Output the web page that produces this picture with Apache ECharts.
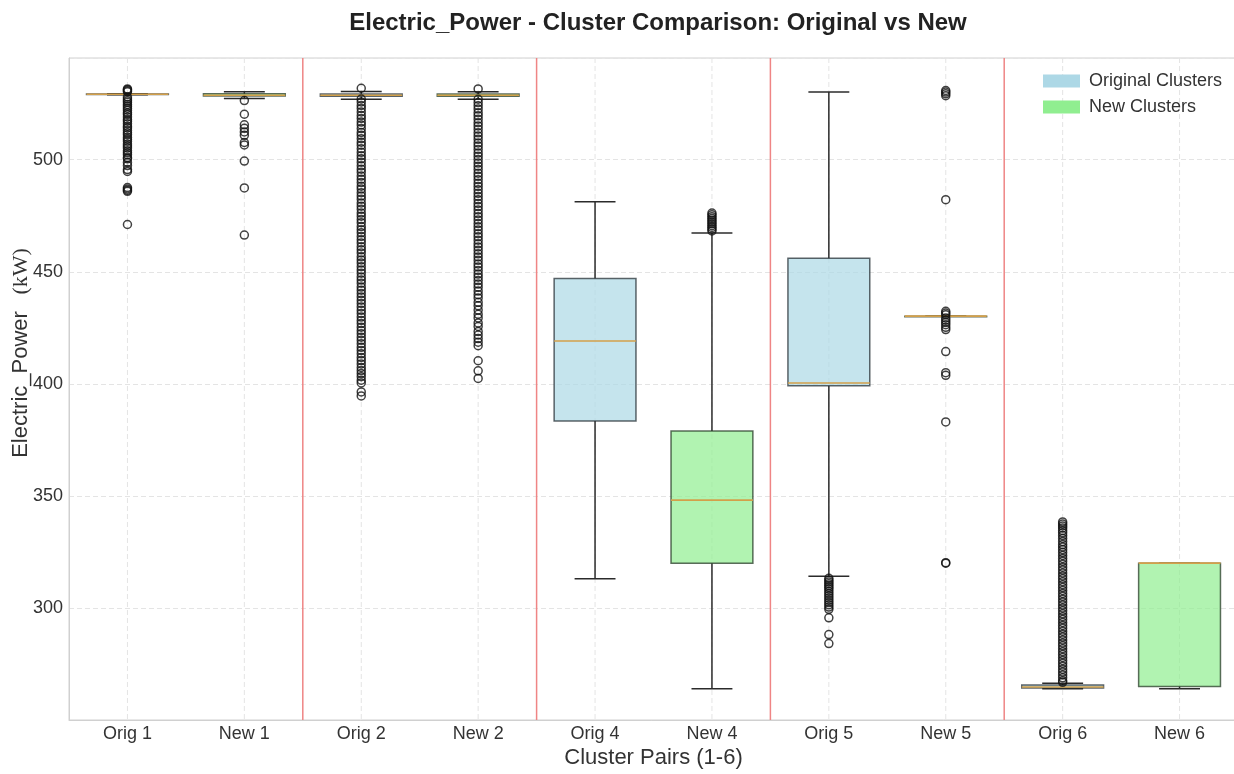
<!DOCTYPE html>
<html><head><meta charset="utf-8">
<script src="https://cdn.jsdelivr.net/npm/echarts@6/dist/echarts.min.js"></script>
<style>html,body{margin:0;padding:0;background:#fff}#c{width:1234px;height:774px}</style>
</head><body><div id="c"></div>
<script>
const categories = ['Orig 1','New 1','Orig 2','New 2','Orig 4','New 4','Orig 5','New 5','Orig 6','New 6'];
// [min whisker, Q1, median, Q3, max whisker]
const origStats = {
  'Orig 1': [529.0, 529.1, 529.2, 529.3, 529.4],
  'Orig 2': [527.0, 528.3, 528.8, 529.3, 530.4],
  'Orig 4': [313.0, 383.4, 419.1, 447.0, 481.3],
  'Orig 5': [314.2, 399.1, 400.4, 456.0, 530.2],
  'Orig 6': [264.0, 264.3, 264.7, 265.6, 266.4]
};
const newStats = {
  'New 1': [527.3, 528.4, 528.8, 529.4, 530.3],
  'New 2': [527.0, 528.3, 528.8, 529.3, 530.3],
  'New 4': [264.0, 319.9, 348.1, 379.0, 467.3],
  'New 5': [430.2, 430.2, 430.2, 430.2, 430.2],
  'New 6': [264.0, 265.0, 320.0, 320.0, 320.0]
};
const outliersOrig1 = [531.6,531.2,530.8,530.3,528.0,527.1,526.3,525.6,524.7,523.9,523.0,522.1,521.0,520.2,519.1,518.0,517.2,516.1,515.0,514.2,513.1,512.0,511.2,510.0,509.1,508.2,507.0,506.1,505.2,504.0,503.1,502.2,501.0,500.4,498.8,497.4,495.6,494.8,487.6,487.0,486.4,485.9,471.1];
const outliersNew1 = [526.4,520.3,515.6,514.0,512.4,510.9,507.7,506.6,499.4,487.4,466.4];
const outliersOrig2 = [531.9,527.1,525.8,524.2,522.9,521.3,519.7,518.4,516.8,515.5,513.9,512.2,510.9,509.4,507.8,506.5,504.9,503.3,501.8,500.4,498.9,497.3,495.8,494.4,492.7,491.3,489.8,488.2,486.9,485.3,483.8,482.4,480.7,479.3,477.9,476.2,474.8,473.3,471.9,470.2,468.8,467.4,465.8,464.3,462.9,461.2,459.8,458.4,456.7,455.3,453.9,452.3,450.8,449.4,447.7,446.3,444.9,443.2,441.8,440.3,438.8,437.3,435.9,434.3,432.8,431.4,429.8,428.3,426.9,425.3,423.8,422.4,420.8,419.4,417.9,416.3,414.9,413.4,411.8,410.4,408.9,407.3,405.9,404.6,403.2,401.6,400.4,396.4,394.6];
const outliersNew2 = [531.6,527.0,525.5,524.1,522.6,521.0,519.6,518.1,516.5,515.1,513.6,512.0,510.6,509.1,507.5,506.1,504.6,503.0,501.6,500.1,498.5,497.1,495.6,494.0,492.6,491.1,489.5,488.1,486.6,485.0,483.6,482.1,480.5,479.1,477.6,476.0,474.6,473.1,471.5,470.1,468.6,467.0,465.6,464.1,462.5,461.1,459.6,458.0,456.6,455.1,453.5,452.1,450.6,449.0,447.6,446.1,444.5,443.1,441.4,439.8,438.3,436.4,434.8,432.9,431.0,429.4,427.2,425.6,423.4,421.8,420.2,418.6,417.0,410.3,405.8,402.4];
const outliersNew4 = [476.2,475.4,474.6,473.8,473.0,472.2,471.4,470.6,469.8,469.0,468.2];
const outliersOrig5 = [313.2,312.4,311.6,310.8,310.0,309.2,308.4,307.4,306.4,305.4,304.4,303.4,302.4,301.4,300.4,299.4,295.6,288.1,284.1];
const outliersNew5 = [530.9,530.2,529.4,528.6,482.2,432.4,431.6,430.8,429.4,428.4,427.4,426.4,425.2,424.2,414.4,405.0,403.8,383.0,320.2,320.0];
const outliersOrig6 = [338.4,337.5,336.6,335.7,334.6,333.5,332.3,331.0,329.6,328.3,327.2,326.0,324.7,323.4,322.1,320.8,319.5,318.2,316.9,315.6,314.3,313.0,311.7,310.4,309.1,307.8,306.5,305.2,303.9,302.6,301.3,300.0,298.7,297.4,296.1,294.8,293.5,292.2,290.9,289.6,288.3,287.0,285.7,284.4,283.1,281.8,280.5,279.2,277.9,276.6,275.3,274.0,272.7,271.4,270.1,268.8,267.5,266.8];
const yTicks = [300, 350, 400, 450, 500];
const pairSeparators = [[1,2],[3,4],[5,6],[7,8]];

const outlierMap = {
  'Orig 1': outliersOrig1, 'New 1': outliersNew1, 'Orig 2': outliersOrig2, 'New 2': outliersNew2,
  'New 4': outliersNew4, 'Orig 5': outliersOrig5, 'New 5': outliersNew5, 'Orig 6': outliersOrig6
};
const outlierData = [];
Object.keys(outlierMap).forEach(k => {
  const idx = categories.indexOf(k);
  outlierMap[k].forEach(v => outlierData.push([idx, v]));
});
function boxData(stats) {
  return Object.keys(stats).map(k => [categories.indexOf(k)].concat(stats[k]));
}

function makeRender(fill, edge) {
  return function (params, api) {
    const x = api.value(0);
    const lo = api.coord([x, api.value(1)]);
    const q1 = api.coord([x, api.value(2)]);
    const md = api.coord([x, api.value(3)]);
    const q3 = api.coord([x, api.value(4)]);
    const hi = api.coord([x, api.value(5)]);
    const bw = api.size([1, 0])[0];
    const half = bw * 0.35, capHalf = bw * 0.175;
    const cx = lo[0];
    const wStyle = { stroke: '#2b2b2b', lineWidth: 1.5 };
    return {
      type: 'group',
      children: [
        { type: 'line', shape: { x1: cx, y1: lo[1], x2: cx, y2: q1[1] }, style: wStyle },
        { type: 'line', shape: { x1: cx, y1: q3[1], x2: cx, y2: hi[1] }, style: wStyle },
        { type: 'line', shape: { x1: cx - capHalf, y1: lo[1], x2: cx + capHalf, y2: lo[1] }, style: wStyle },
        { type: 'line', shape: { x1: cx - capHalf, y1: hi[1], x2: cx + capHalf, y2: hi[1] }, style: wStyle },
        { type: 'rect', shape: { x: cx - half, y: q3[1], width: half * 2, height: Math.max(q1[1] - q3[1], 0.5) },
          style: { fill: fill, stroke: edge, lineWidth: 1.5 } },
        { type: 'line', shape: { x1: cx - half, y1: md[1], x2: cx + half, y2: md[1] },
          style: { stroke: '#d3a04a', lineWidth: 1.6 } }
      ]
    };
  };
}

const chart = echarts.init(document.getElementById('c'), null, { renderer: 'canvas' });
const font = 'Liberation Sans, Arial, Helvetica, sans-serif';
chart.setOption({
  animation: false,
  backgroundColor: '#fff',
  title: {
    text: 'Electric_Power - Cluster Comparison: Original vs New',
    left: 653, top: 6, textAlign: 'center',
    textStyle: { fontFamily: font, fontSize: 24, fontWeight: 'bold', color: '#222' }
  },
  legend: {
    orient: 'vertical', left: 1038, top: 67, itemWidth: 37, itemHeight: 13, itemGap: 8,
    icon: 'rect',
    data: ['Original Clusters', 'New Clusters'],
    textStyle: { fontFamily: font, fontSize: 18, color: '#333', padding: [0, 0, 0, 4] }
  },
  grid: { left: 69, right: -4, top: 58, bottom: 54, show: true, borderColor: '#d0d0d0', borderWidth: 1,
    outerBoundsMode: 'none', containLabel: false },
  xAxis: [{
    type: 'category', data: categories, boundaryGap: true,
    name: 'Cluster Pairs (1-6)', nameLocation: 'middle', nameGap: 27, nameMoveOverlap: false,
    nameTextStyle: { fontFamily: font, fontSize: 22, color: '#333' },
    axisLine: { lineStyle: { color: '#d0d0d0' } },
    axisTick: { show: false },
    axisLabel: { fontFamily: font, fontSize: 18, color: '#333', margin: 5 },
    splitLine: { show: false }
  }],
  yAxis: [{
    type: 'value', min: 250, max: 545.4, interval: 50,
    name: '{a|Electric_Power}{b|   (kW)}', nameLocation: 'middle', nameGap: 37, nameMoveOverlap: false,
    nameTextStyle: { padding: [0, 0, 0, 72], rich: {
      a: { fontFamily: font, fontSize: 22, color: '#333' },
      b: { fontFamily: 'Liberation Serif, DejaVu Serif, serif', fontSize: 22, color: '#333' }
    } },
    axisLine: { show: true, lineStyle: { color: '#d0d0d0' } },
    axisTick: { show: false },
    showMinLabel: false, showMaxLabel: false,
    axisLabel: { fontFamily: font, fontSize: 18, color: '#333', margin: 6,
      formatter: v => (yTicks.indexOf(v) >= 0 ? String(v) : '') },
    splitLine: { show: true, lineStyle: { color: '#e4e4e4', type: [5, 3], width: 1 } }
  }],
  series: [
    {
      type: 'custom', name: 'vgrid', silent: true, z: 1,
      data: categories.map((c, i) => [i]),
      renderItem: function (params, api) {
        const p = api.coord([api.value(0), 400]);
        const cs = params.coordSys;
        return { type: 'line', shape: { x1: p[0], y1: cs.y, x2: p[0], y2: cs.y + cs.height },
          style: { stroke: '#e4e4e4', lineWidth: 1, lineDash: [5, 3] } };
      }
    },
    {
      type: 'custom', name: 'separators', silent: true, z: 2,
      data: pairSeparators,
      renderItem: function (params, api) {
        const a = api.coord([api.value(0), 400]);
        const b = api.coord([api.value(1), 400]);
        const x = (a[0] + b[0]) / 2;
        const cs = params.coordSys;
        return { type: 'line', shape: { x1: x, y1: cs.y, x2: x, y2: cs.y + cs.height },
          style: { stroke: '#ef8585', lineWidth: 1.5 } };
      }
    },
    {
      type: 'custom', name: 'Original Clusters', z: 3,
      itemStyle: { color: '#ADD8E6' },
      encode: { x: 0, y: [1, 2, 3, 4, 5] },
      data: boxData(origStats),
      renderItem: makeRender('rgba(173,216,230,0.7)', 'rgba(40,50,55,0.75)')
    },
    {
      type: 'custom', name: 'New Clusters', z: 3,
      itemStyle: { color: '#90EE90' },
      encode: { x: 0, y: [1, 2, 3, 4, 5] },
      data: boxData(newStats),
      renderItem: makeRender('rgba(144,238,144,0.7)', 'rgba(40,60,40,0.75)')
    },
    {
      type: 'scatter', name: 'outliers', z: 5, silent: true,
      symbol: 'circle', symbolSize: 8,
      itemStyle: { color: 'rgba(0,0,0,0)', borderColor: '#111', borderWidth: 1.5 },
      data: outlierData
    }
  ]
});
</script></body></html>
